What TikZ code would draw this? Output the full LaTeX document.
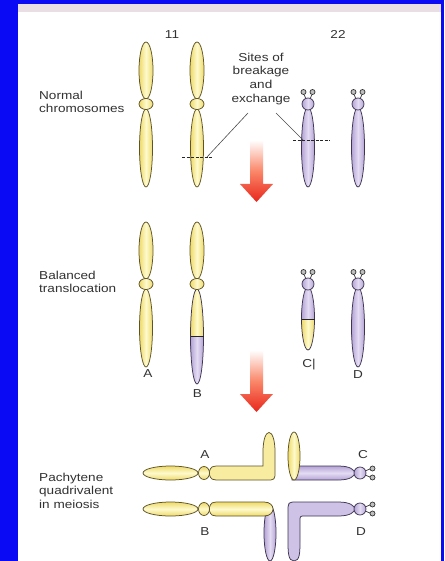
\documentclass[tikz,border=0pt]{standalone}
\usepackage{fontspec}
\setmainfont{Liberation Sans}[FakeStretch=1.18]
\usepackage{xcolor}
\usepackage{tikz}

\definecolor{frameblue}{RGB}{10,10,245}
\definecolor{bandpink}{RGB}{232,222,228}
\definecolor{yelmid}{RGB}{254,250,205}
\definecolor{yeledge}{RGB}{238,218,105}
\definecolor{yelline}{RGB}{95,84,40}
\definecolor{purmid}{RGB}{228,220,243}
\definecolor{puredge}{RGB}{180,163,213}
\definecolor{purline}{RGB}{62,54,82}
\definecolor{arrowred}{RGB}{232,38,28}
\definecolor{arrowmid}{RGB}{250,135,105}
\definecolor{labelgrey}{RGB}{50,50,50}

\tikzset{
  yv/.style={draw=yelline, line width=0.75pt, left color=yeledge, right color=yeledge, middle color=yelmid},
  pv/.style={draw=purline, line width=0.75pt, left color=puredge, right color=puredge, middle color=purmid},
  yh/.style={draw=yelline, line width=0.75pt, top color=yeledge, bottom color=yeledge, middle color=yelmid},
  ph/.style={draw=purline, line width=0.75pt, top color=puredge, bottom color=puredge, middle color=purmid},
  yflat/.style={draw=yelline, line width=0.75pt, fill=yelmid!55!yeledge},
  pflat/.style={draw=purline, line width=0.75pt, fill=purmid!55!puredge},
  sat/.style={draw=black!80, fill=black!25, line width=0.7pt},
  stalk/.style={draw=black!80, line width=0.7pt},
  joint/.style={draw=black!85, line width=1pt},
  brkline/.style={draw=black!85, line width=0.7pt, dash pattern=on 3pt off 1.5pt},
  ptr/.style={draw=black!70, line width=0.6pt},
  arrowfill/.style={top color=white, bottom color=arrowred, middle color=arrowmid},
  txt/.style={font=\fontsize{11.5}{13.7}\selectfont, text=labelgrey, inner sep=0pt},
}

\begin{document}
\begin{tikzpicture}[x=1pt, y=-1pt]
  \useasboundingbox (0,0) rectangle (444,561);
  % frame
  \fill[frameblue] (0,0) rectangle (444,561);
  \fill[white] (18,4) rectangle (441,561);
  \fill[bandpink] (18,4) rectangle (441,12);

  % row labels
  \node[txt, align=left, anchor=north west] (nrm) at (39,90.5) {Normal\\chromosomes};
  \node[txt, align=left, anchor=north west] (bal) at (39,270.5) {Balanced\\translocation};
  \node[txt, align=left, anchor=north west] (pach) at (39,472.5) {Pachytene\\quadrivalent\\in meiosis};
  \node[txt, anchor=base] (n11) at (172,39) {11};
  \node[txt, anchor=base] (n22) at (338,39) {22};
  \node[txt, align=center, anchor=north] (sites) at (261,52.5) {Sites of\\breakage\\and\\exchange};

  % chromosome 11, normal copies
  \foreach \cx/\cy in {146/104, 197/104, 146/284} {
    \draw[yv] (\cx,\cy-33.5) ellipse [x radius=7, y radius=28.5];
    \draw[yv] (\cx,\cy+44) ellipse [x radius=6.5, y radius=39];
    \draw[yv] (\cx,\cy) ellipse [x radius=7, y radius=5.5];
  }

  % chromosome 22, normal copies
  \foreach \cx/\hy in {308/104, 358/104, 358/284} {
    \draw[pv] (\cx,\hy+43) ellipse [x radius=6.5, y radius=40];
    \draw[stalk] (\cx-2,\hy-5) -- (\cx-4,\hy-9.5) (\cx+2,\hy-5) -- (\cx+4,\hy-9.5);
    \draw[sat] (\cx-4.5,\hy-12) circle [radius=2.5];
    \draw[sat] (\cx+4.5,\hy-12) circle [radius=2.5];
    \draw[pv] (\cx,\hy) circle [radius=6];
  }

  % breakpoints
  \coordinate (brk11) at (207,157);
  \coordinate (brk22) at (303,140);
  \coordinate (from11) at (248,113);
  \coordinate (from22) at (276,113);
  \draw[brkline] (182,157) -- (213,157);
  \draw[brkline] (293,140) -- (330,140);
  \draw[ptr] (from11) -- (brk11);
  \draw[ptr] (from22) -- (brk22);

  % arrows between rows
  \foreach \ay in {140,350} {
    \shade[arrowfill] (250,\ay) -- (263,\ay) -- (263,\ay+44) -- (273,\ay+44)
      -- (256.5,\ay+62) -- (240,\ay+44) -- (250,\ay+44) -- cycle;
  }

  % derivative 11 (B)
  \draw[yv] (197,250.5) ellipse [x radius=7, y radius=28.5];
  \begin{scope}
    \clip (185,280) rectangle (210,336);
    \path[yv, draw=none] (197,336.5) ellipse [x radius=6.5, y radius=47.5];
  \end{scope}
  \begin{scope}
    \clip (185,336) rectangle (210,390);
    \path[pv, draw=none] (197,336.5) ellipse [x radius=6.5, y radius=47.5];
  \end{scope}
  \draw[draw=purline, line width=0.75pt] (197,336.5) ellipse [x radius=6.5, y radius=47.5];
  \draw[joint] (190.5,336) -- (203.5,336);
  \draw[yv] (197,284) ellipse [x radius=7, y radius=5.5];

  % derivative 22 (C)
  \begin{scope}
    \clip (295,280) rectangle (320,319);
    \path[pv, draw=none] (308,318.5) ellipse [x radius=6.5, y radius=31.5];
  \end{scope}
  \begin{scope}
    \clip (295,319) rectangle (320,355);
    \path[yv, draw=none] (308,318.5) ellipse [x radius=6.5, y radius=31.5];
  \end{scope}
  \draw[draw=purline, line width=0.75pt] (308,318.5) ellipse [x radius=6.5, y radius=31.5];
  \draw[joint] (301.5,319) -- (314.5,319);
  \draw[stalk] (306,279) -- (304,274.5) (310,279) -- (312,274.5);
  \draw[sat] (303.5,272) circle [radius=2.5];
  \draw[sat] (312.5,272) circle [radius=2.5];
  \draw[pv] (308,284) circle [radius=6];

  \node[txt, anchor=base] (lA1) at (148,377) {A};
  \node[txt, anchor=base] (lB1) at (197.5,397) {B};
  \node[txt, anchor=base] (lC1) at (309,367) {C|};
  \node[txt, anchor=base] (lD1) at (358,378) {D};

  % pachytene quadrivalent
  \draw[yh] (170.5,473) ellipse [x radius=27.5, y radius=7];
  \draw[yflat] (209,473) .. controls (211,466) .. (222,466) -- (263,466) -- (263,452)
    .. controls (263,426) and (275,426) .. (275,452) -- (275,471)
    .. controls (275,480) .. (266,480) -- (222,480) .. controls (211,480) .. (209,473) -- cycle;
  \draw[yh] (204,473) ellipse [x radius=5.5, y radius=6.5];

  \draw[ph] (292,466) -- (338,466) .. controls (351,466) and (354,470) .. (355,473)
    .. controls (354,476) and (351,480) .. (338,480) -- (292,480) -- cycle;
  \draw[yv] (294,456) ellipse [x radius=6, y radius=24];

  \draw[pv] (270,533) ellipse [x radius=6, y radius=28];
  \draw[yh] (170.5,509) ellipse [x radius=27.5, y radius=7];
  \draw[yh] (209,509) .. controls (211,502) .. (222,502) -- (264,502)
    .. controls (276,502) and (276,516) .. (264,516) -- (222,516) .. controls (211,516) .. (209,509) -- cycle;
  \draw[yh] (204,509) ellipse [x radius=5.5, y radius=6.5];

  \draw[pflat] (294,561) .. controls (288,561) and (288,552) .. (288,540) -- (288,512)
    .. controls (288,502) .. (297,502) -- (338,502) .. controls (351,502) and (354,506) .. (355,509)
    .. controls (354,512) and (351,516) .. (338,516) -- (305,516) .. controls (300,516) .. (300,521)
    -- (300,540) .. controls (300,552) and (300,561) .. (294,561) -- cycle;

  \foreach \hy in {473,509} {
    \draw[stalk] (365,\hy-2) -- (370,\hy-4) (365,\hy+2) -- (370,\hy+4);
    \draw[sat] (372.5,\hy-4.5) circle [radius=2.5];
    \draw[sat] (372.5,\hy+4.5) circle [radius=2.5];
    \draw[pv] (360,\hy) circle [radius=6];
  }

  \node[txt, anchor=base] (lA2) at (205,458) {A};
  \node[txt, anchor=base] (lB2) at (205,535) {B};
  \node[txt, anchor=base] (lC2) at (363,458) {C};
  \node[txt, anchor=base] (lD2) at (361,535) {D};
\end{tikzpicture}
\end{document}
